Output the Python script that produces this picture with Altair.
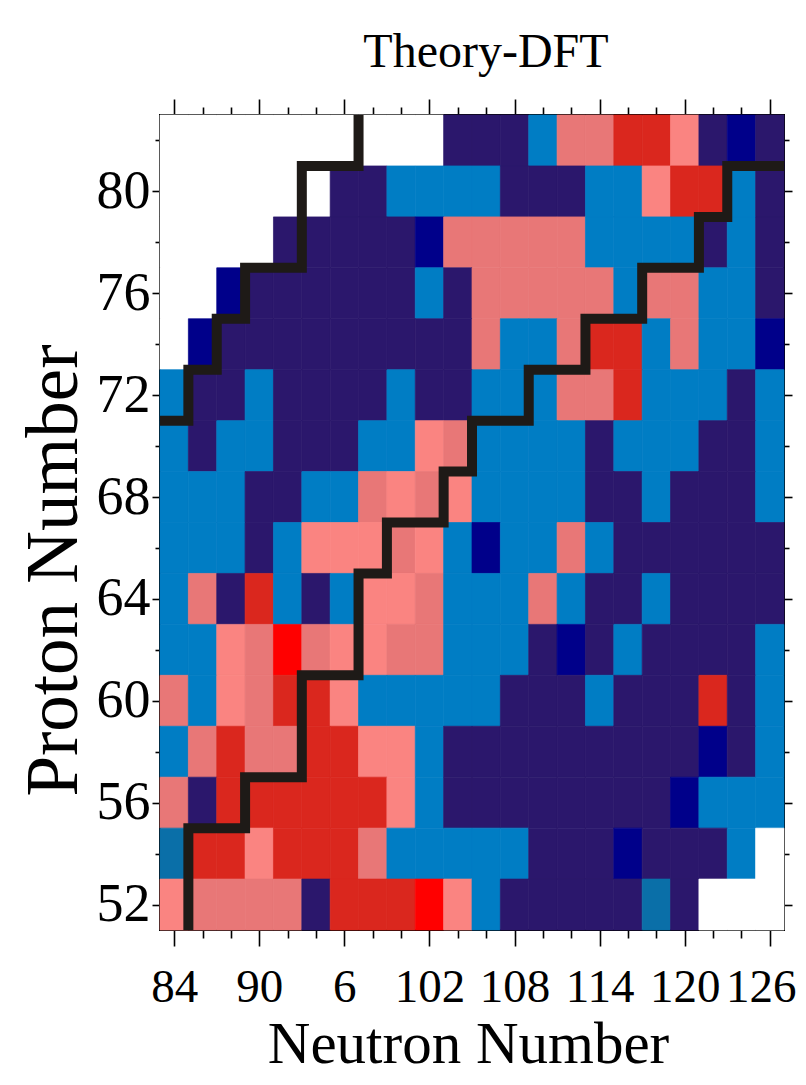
import altair as alt
import pandas as pd

# Neutron-number columns (cell centres) and proton-number rows (cell centres)
N_CENTRES = list(range(84, 127, 2))
Z_CENTRES = list(range(82, 51, -2))

# Cell colour codes, one list per proton row (left -> right, N = 84 ... 126)
# W white, N navy, D deep navy, B blue, T teal, P pink, L light pink, R red, X bright red
Z82 = "W W W W W W W W W W N N N B P P R R L N D N".split()
Z80 = "W W W W W W N N B B B B N N N B B L R R B N".split()
Z78 = "W W W W N N N N N D P P P P P B B B B N B N".split()
Z76 = "W W D N N N N N N B N P P P P P B P P B B N".split()
Z74 = "W D N N N N N N N N N P B B P R R B P B B D".split()
Z72 = "B N N B N N N N B N N B B B P P R B B B N B".split()
Z70 = "B N B B N N N B B L P B B B B N B B B N N B".split()
Z68 = "B B B N N B B P L P L B B B B N N B N N N B".split()
Z66 = "B B B N B L L L P L B D B B P B N N N N N N".split()
Z64 = "B P N R B N B L L P B B B P B N N B N N N N".split()
Z62 = "B B L P X P L L P P B B B N D N B N N N N B".split()
Z60 = "P B L P R R L B B B B B N N N B N N N R N B".split()
Z58 = "B P R P P R R L L B N N N N N N N N N D N B".split()
Z56 = "P N R R R R R R L B N N N N N N N N D B B B".split()
Z54 = "T R R L R R R P B B B B B N N N D N N N B W".split()
Z52 = "L P P P P N R R R X L B N N N N N T N W W W".split()
ROWS = [Z82, Z80, Z78, Z76, Z74, Z72, Z70, Z68, Z66, Z64, Z62, Z60, Z58, Z56, Z54, Z52]

CODES = ["W", "N", "D", "B", "T", "P", "L", "R", "X"]
COLOURS = ["#ffffff", "#2b176c", "#00008a", "#007dc4", "#0a6fa8",
           "#e87777", "#fa8481", "#da271e", "#ff0000"]

# Boundary staircase lines (N, Z)
UPPER_N = [97, 97, 93, 93, 89, 89, 87, 87, 85, 85, 83]
UPPER_Z = [83, 81, 81, 77, 77, 75, 75, 73, 73, 71, 71]
LOWER_N = [85, 85, 89, 89, 93, 93, 97, 97, 99, 99, 103, 103, 105, 105,
           109, 109, 113, 113, 117, 117, 121, 121, 123, 123, 127]
LOWER_Z = [51, 55, 55, 57, 57, 61, 61, 65, 65, 67, 67, 69, 69, 71,
           71, 73, 73, 75, 75, 77, 77, 79, 79, 81, 81]

N_TICKS = list(range(84, 127, 2))
Z_TICKS = list(range(52, 83, 2))

cells = []
for z, row in zip(Z_CENTRES, ROWS):
    for n, code in zip(N_CENTRES, row):
        cells.append({"N": n, "Z": z, "code": code})
cells_df = pd.DataFrame(cells)

line_rows = []
for k, (n, z) in enumerate(zip(UPPER_N, UPPER_Z)):
    line_rows.append({"N": n, "Z": z, "seg": "upper", "k": k})
for k, (n, z) in enumerate(zip(LOWER_N, LOWER_Z)):
    line_rows.append({"N": n, "Z": z, "seg": "lower", "k": k})
line_df = pd.DataFrame(line_rows)

FONT = "Liberation Serif, Times New Roman, serif"
x_scale = alt.Scale(domain=[83, 127], nice=False, zero=False)
y_scale = alt.Scale(domain=[51, 83], nice=False, zero=False)
colour_scale = alt.Scale(domain=CODES, range=COLOURS)

x_major = "datum.value % 6 == 0"
y_major = "datum.value % 4 == 0"

bottom_axis = alt.Axis(
    values=N_TICKS, orient="bottom", domain=False, grid=False,
    labelExpr="datum.value % 6 == 0 ? (datum.value == 96 ? '6' : '' + datum.value) : ''",
    labelFont=FONT, labelFontSize=47, labelColor="black", labelPadding=18,
    labelFlush=False, labelOverlap=False, labelBaseline="top",
    labelOffset={"condition": {"test": "datum.value == 126", "value": -9}, "value": 0},
    tickColor="black", tickWidth=1.6,
    tickSize={"condition": {"test": x_major, "value": 16}, "value": 8},
    title="Neutron Number", titleFont=FONT, titleFontSize=59,
    titleFontWeight="normal", titleColor="black",
    titleX=308, titleY=132, titleBaseline="alphabetic", titleAlign="center",
)
left_axis = alt.Axis(
    values=Z_TICKS, orient="left", domain=False, grid=False,
    labelExpr="datum.value % 4 == 0 ? '' + datum.value : ''",
    labelFont=FONT, labelFontSize=54, labelColor="black", labelPadding=2,
    labelFlush=False, labelOverlap=False,
    tickColor="black", tickWidth=1.6,
    tickSize={"condition": {"test": y_major, "value": 8}, "value": 5},
    title="Proton Number", titleFont=FONT, titleFontSize=73,
    titleFontWeight="normal", titleColor="black",
    titleX=-84, titleY=455, titleAngle=270, titleBaseline="alphabetic",
    titleAlign="center",
)
top_axis = alt.Axis(
    values=N_TICKS, orient="top", domain=False, grid=False, labels=False,
    tickColor="black", tickWidth=1.6,
    tickSize={"condition": {"test": x_major, "value": 16}, "value": 8},
    title=None,
)
right_axis = alt.Axis(
    values=Z_TICKS, orient="right", domain=False, grid=False, labels=False,
    tickColor="black", tickWidth=1.6,
    tickSize={"condition": {"test": y_major, "value": 8}, "value": 5},
    title=None,
)

heat = (
    alt.Chart(cells_df)
    .transform_calculate(x0="datum.N - 1", x1="datum.N + 1",
                         y0="datum.Z - 1", y1="datum.Z + 1")
    .mark_rect(strokeWidth=0.7)
    .encode(
        x=alt.X("x0:Q", scale=x_scale, axis=bottom_axis),
        x2="x1:Q",
        y=alt.Y("y0:Q", scale=y_scale, axis=left_axis),
        y2="y1:Q",
        color=alt.Color("code:N", scale=colour_scale, legend=None),
        stroke=alt.Stroke("code:N", scale=colour_scale, legend=None),
    )
)

lines = (
    alt.Chart(line_df)
    .mark_line(color="#1e1a17", strokeWidth=10, strokeJoin="miter",
               strokeCap="butt", clip=True, interpolate="linear")
    .encode(
        x=alt.X("N:Q", scale=x_scale, axis=top_axis),
        y=alt.Y("Z:Q", scale=y_scale, axis=right_axis),
        detail="seg:N",
        order="k:Q",
    )
)

chart = (
    alt.layer(heat, lines)
    .resolve_axis(x="independent", y="independent")
    .properties(
        width=624, height=815,
        autosize=alt.AutoSizeParams(type="none"),
        padding={"left": 152, "top": 107, "right": 14, "bottom": 146},
        title=alt.TitleParams("Theory-DFT", font=FONT, fontSize=48,
                              fontWeight="normal", color="black",
                              dx=14, dy=54, offset=37, baseline="alphabetic"),
        background="white",
    )
    .configure_view(stroke="black", strokeWidth=2)
)

chart.save("out.html", embed_options={"renderer": "svg", "actions": False})
